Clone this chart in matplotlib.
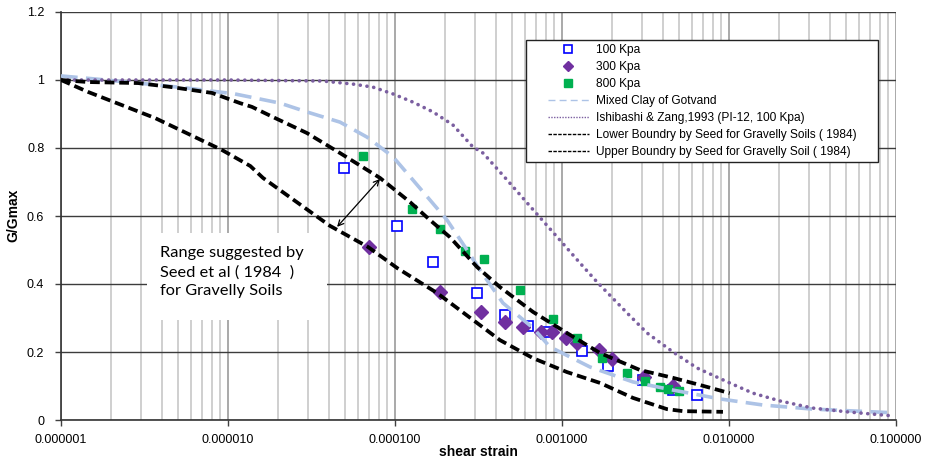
import numpy as np
import matplotlib.pyplot as plt
from matplotlib.lines import Line2D
from matplotlib.patches import Rectangle
from matplotlib.ticker import FixedLocator, LogLocator, FuncFormatter, NullFormatter

plt.rcParams['font.family'] = ['Liberation Sans', 'DejaVu Sans']
plt.rcParams['lines.scale_dashes'] = False

# test results: shear strain vs G/Gmax
strain_100 = [4.96e-5, 1.03e-4, 1.69e-4, 3.10e-4, 4.56e-4, 6.25e-4, 8.12e-4,
              1.32e-3, 1.88e-3, 3.06e-3, 4.62e-3, 6.43e-3]
ratio_100 = [0.741, 0.571, 0.465, 0.374, 0.309, 0.276, 0.259,
             0.203, 0.159, 0.118, 0.088, 0.074]

strain_300 = [6.98e-5, 1.86e-4, 3.27e-4, 4.56e-4, 5.83e-4, 7.48e-4, 8.71e-4,
              1.06e-3, 1.23e-3, 1.67e-3, 1.99e-3, 3.10e-3, 4.62e-3]
ratio_300 = [0.509, 0.376, 0.318, 0.288, 0.274, 0.259, 0.259,
             0.241, 0.226, 0.206, 0.179, 0.126, 0.100]

strain_800 = [6.42e-5, 1.26e-4, 1.86e-4, 2.62e-4, 3.41e-4, 5.61e-4, 8.83e-4,
              1.23e-3, 1.74e-3, 2.45e-3, 3.14e-3, 3.86e-3, 4.31e-3, 5.02e-3]
ratio_800 = [0.776, 0.621, 0.562, 0.497, 0.474, 0.382, 0.297,
             0.241, 0.182, 0.138, 0.115, 0.097, 0.091, 0.085]

# reference curves
strain_gotvand = [1e-6, 1.6e-6, 2.89e-6, 5.76e-6, 1.10e-5, 2.05e-5, 2.97e-5, 4.69e-5,
                  6.80e-5, 9.73e-5, 1.28e-4, 1.62e-4, 2.05e-4, 2.70e-4, 3.23e-4,
                  4.43e-4, 6.70e-4, 8.47e-4, 1.47e-3, 2.66e-3, 4.62e-3, 8.83e-3,
                  1.60e-2, 3.18e-2, 9.87e-2]
ratio_gotvand = [1.012, 1.003, 0.991, 0.976, 0.959, 0.932, 0.906, 0.876,
                 0.832, 0.774, 0.706, 0.647, 0.588, 0.500, 0.441,
                 0.344, 0.271, 0.215, 0.156, 0.112, 0.088, 0.062,
                 0.044, 0.032, 0.021]

strain_ishibashi = [1e-6, 1e-5, 3.7e-5, 5.60e-5, 7.38e-5, 9.73e-5, 1.28e-4, 1.69e-4,
                    2.22e-4, 2.93e-4, 3.37e-4, 4.69e-4, 6.43e-4, 9.72e-4, 1.28e-3,
                    1.62e-3, 2.45e-3, 3.23e-3, 4.62e-3, 6.43e-3, 1.01e-2, 1.39e-2,
                    2.02e-2, 3.18e-2, 5.09e-2, 9.60e-2]
ratio_ishibashi = [1.0, 1.0, 0.997, 0.988, 0.979, 0.959, 0.935, 0.906,
                   0.868, 0.803, 0.785, 0.706, 0.629, 0.529, 0.462,
                   0.406, 0.315, 0.256, 0.200, 0.153, 0.109, 0.079,
                   0.056, 0.035, 0.024, 0.012]

strain_lower = [1e-6, 1.45e-6, 2.32e-6, 3.66e-6, 6.35e-6, 9.21e-6, 1.36e-5, 1.62e-5,
                2.05e-5, 4.08e-5, 6.89e-5, 1.03e-4, 1.78e-4, 4.25e-4, 6.70e-4,
                1.07e-3, 1.69e-3, 2.66e-3, 4.25e-3, 5.31e-3, 9.2e-3]
ratio_lower = [1.0, 0.965, 0.926, 0.888, 0.832, 0.794, 0.747, 0.712,
               0.676, 0.571, 0.509, 0.447, 0.374, 0.235, 0.182,
               0.141, 0.109, 0.065, 0.032, 0.026, 0.024]

strain_upper = [1e-6, 1.45e-6, 2.89e-6, 4.62e-6, 8.02e-6, 1.18e-5, 1.39e-5, 1.86e-5,
                2.97e-5, 4.69e-5, 8.13e-5, 1.23e-4, 1.62e-4, 2.13e-4, 3.10e-4,
                4.25e-4, 6.70e-4, 1.07e-3, 1.69e-3, 2.93e-3, 4.62e-3, 6.70e-3, 1.01e-2]
ratio_upper = [1.0, 0.994, 0.991, 0.979, 0.962, 0.932, 0.921, 0.891,
               0.844, 0.785, 0.712, 0.641, 0.588, 0.538, 0.450,
               0.391, 0.318, 0.256, 0.197, 0.147, 0.124, 0.103, 0.079]

# arrow between the two Seed boundaries
arrow_from = (4.5e-5, 0.568)
arrow_to = (8.13e-5, 0.709)

xticks = [1e-6, 1e-5, 1e-4, 1e-3, 1e-2, 1e-1]
yticks = [0, 0.2, 0.4, 0.6, 0.8, 1.0, 1.2]
ytick_labels = ['0', '0.2', '0.4', '0.6', '0.8', '1', '1.2']

c_blue = '#0000ff'
c_purple = '#7030a0'
c_green = '#00b050'
c_lightblue = '#adc3e6'
c_dots = '#7b5fa0'

W, H = 925, 461
fig = plt.figure(figsize=(W / 100, H / 100), dpi=100)
ax = fig.add_axes([61 / W, 1 - 420 / H, 835 / W, 408 / H])

ax.set_xscale('log')
ax.set_xlim(1e-6, 1e-1)
ax.set_ylim(0, 1.2)

ax.xaxis.set_major_locator(FixedLocator(xticks))
ax.xaxis.set_major_formatter(FuncFormatter(lambda v, p: '%.6f' % v))
ax.xaxis.set_minor_locator(LogLocator(base=10, subs=np.arange(2, 10)))
ax.xaxis.set_minor_formatter(NullFormatter())
ax.set_yticks(yticks)
ax.set_yticklabels(ytick_labels)

ax.tick_params(axis='both', which='major', labelsize=9, length=4, width=1,
               color='#404040', direction='out')
ax.tick_params(axis='x', which='major', pad=6)
ax.tick_params(axis='y', which='major', pad=8)
ax.tick_params(axis='x', which='minor', length=0)

ax.grid(True, which='minor', axis='x', color='#cbcbcb', lw=1.3)
ax.grid(True, which='major', axis='x', color='#a3a3a3', lw=1.3)
ax.grid(True, which='major', axis='y', color='#3c3c3c', lw=1.0)
ax.set_axisbelow(True)

for s in ['top', 'right']:
    ax.spines[s].set_visible(False)
for s in ['left', 'bottom']:
    ax.spines[s].set_color('#333333')
    ax.spines[s].set_linewidth(1.2)

# white note box over the grid
note_box = Rectangle((147 / W, 1 - 320 / H), 180 / W, 87 / H, transform=fig.transFigure,
                     facecolor='white', edgecolor='none', zorder=1.5)
ax.add_patch(note_box)
fig.text(160 / W, 1 - 272 / H,
         'Range suggested by\nSeed et al ( 1984  )\nfor Gravelly Soils',
         family=['Lato', 'DejaVu Sans'], fontsize=11.8, ha='left', va='center',
         linespacing=1.42, zorder=5)

# test points
ax.plot(strain_100, ratio_100, ls='none', marker='s', ms=6.5, mfc='white',
        mec=c_blue, mew=1.2, zorder=3)
ax.plot(strain_300, ratio_300, ls='none', marker='D', ms=7, mfc=c_purple,
        mec=c_purple, zorder=3)
ax.plot(strain_800, ratio_800, ls='none', marker='s', ms=6, mfc=c_green,
        mec=c_green, zorder=3)

# reference curves
ax.plot(strain_gotvand, ratio_gotvand, color=c_lightblue, lw=2.6,
        dashes=(12, 6), zorder=4)
ax.plot(strain_ishibashi, ratio_ishibashi, color=c_dots, lw=2.6,
        dashes=(0.1, 4.8), dash_capstyle='round', zorder=4)
ax.plot(strain_lower, ratio_lower, color='black', lw=2.7, dashes=(7, 3.5), zorder=4)
ax.plot(strain_upper, ratio_upper, color='black', lw=2.7, dashes=(7, 3.5), zorder=4)

ax.annotate('', xy=arrow_to, xytext=arrow_from,
            arrowprops=dict(arrowstyle='<->', lw=0.9, color='black',
                            shrinkA=0, shrinkB=0), zorder=5)

ax.set_xlabel('shear strain', fontsize=10, fontweight='bold')
ax.xaxis.set_label_coords(0.5, -0.078)
ax.xaxis.label.set_va('center')
ax.set_ylabel('G/Gmax', fontsize=10, fontweight='bold')
ax.yaxis.set_label_coords(-0.0575, 0.502)
ax.yaxis.label.set_va('center')

# legend with its own frame
legend_frame = Rectangle((526 / W, 1 - 162 / H), 352 / W, 122 / H, transform=fig.transFigure,
                         facecolor='white', edgecolor='#222222', lw=1.0, zorder=6)
ax.add_patch(legend_frame)
legend_handles = [
    Line2D([], [], ls='none', marker='s', ms=5.5, mfc='white', mec=c_blue, mew=1.2),
    Line2D([], [], ls='none', marker='D', ms=5.5, mfc=c_purple, mec=c_purple),
    Line2D([], [], ls='none', marker='s', ms=5.5, mfc=c_green, mec=c_green),
    Line2D([], [], color=c_lightblue, lw=1.0, dashes=(5, 3)),
    Line2D([], [], color=c_dots, lw=1.0, dashes=(1, 1)),
    Line2D([], [], color='black', lw=1.0, dashes=(2.5, 1)),
    Line2D([], [], color='black', lw=1.0, dashes=(2.5, 1)),
]
legend_labels = ['100 Kpa', '300 Kpa', '800 Kpa', 'Mixed Clay of Gotvand',
                 'Ishibashi & Zang,1993 (PI-12, 100 Kpa)',
                 'Lower Boundry by Seed for Gravelly Soils ( 1984)',
                 'Upper Boundry by Seed for Gravelly Soil ( 1984)']
leg = fig.legend(legend_handles, legend_labels, loc='upper left',
                 bbox_to_anchor=(548 / W, 1 - 44 / H), frameon=False, fontsize=8.6,
                 borderpad=0, borderaxespad=0, handlelength=3.4, handletextpad=0.6,
                 labelspacing=0.42, numpoints=1)
leg.set_zorder(7)

fig.savefig('out.png', dpi=100)
